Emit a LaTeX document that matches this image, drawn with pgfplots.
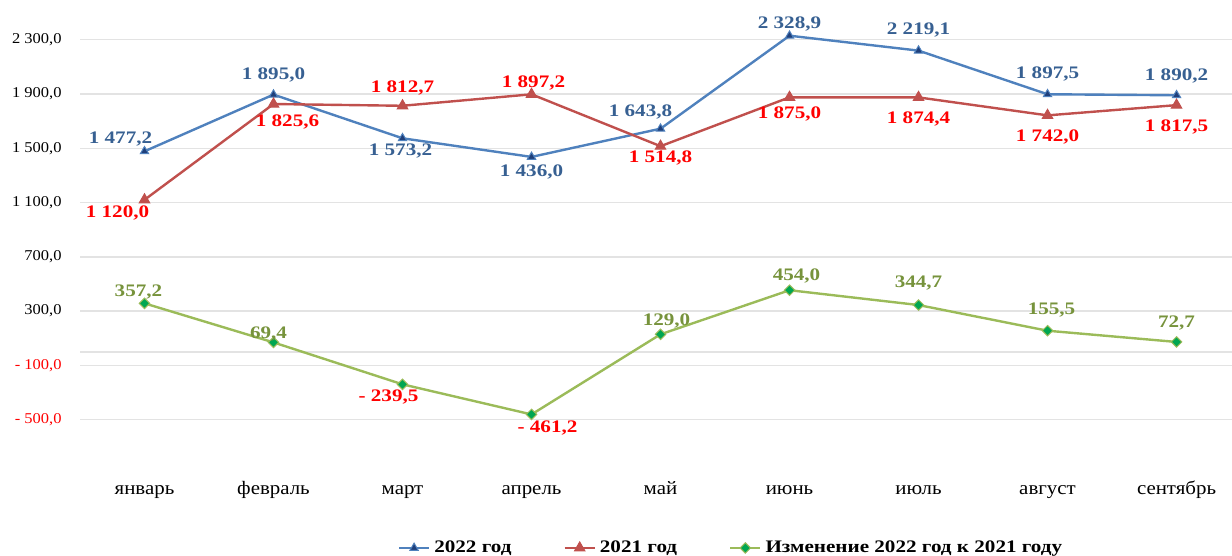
\documentclass[border=0pt]{standalone}
\usepackage{pgfplots}
\pgfplotsset{compat=1.18}
\usepackage{pgfplotstable}
\usepackage{fontspec}
\setmainfont{Liberation Serif}[FakeStretch=1.1]
\newfontfamily\lblfont{Liberation Serif}[FakeStretch=1.2]

\definecolor{blueline}{HTML}{4F81BD}
\definecolor{bluemark}{HTML}{1F3F7A}
\definecolor{bluetext}{HTML}{376092}
\definecolor{redline}{HTML}{C0504D}
\definecolor{redtext}{HTML}{FF0000}
\definecolor{greenline}{HTML}{9BBB59}
\definecolor{greenmark}{HTML}{00A651}
\definecolor{greentext}{HTML}{77933C}
\definecolor{gridgray}{HTML}{E3E3E3}

\pgfplotstableread[col sep=semicolon]{
x;y;lbl;dx;dy
0;1477.2;1 477,2;-12;6.3
1;1895.0;1 895,0;0;10
2;1573.2;1 573,2;-1;-6.5
3;1436.0;1 436,0;0;-7.5
4;1643.8;1 643,8;-10;8.3
5;2328.9;2 328,9;0;5.8
6;2219.1;2 219,1;0;10.5
7;1897.5;1 897,5;0;10
8;1890.2;1 890,2;0;9.5
}\tabA

\pgfplotstableread[col sep=semicolon]{
x;y;lbl;dx;dy
0;1120.0;1 120,0;-13.5;-6.6
1;1825.6;1 825,6;7;-9
2;1812.7;1 812,7;0;9
3;1897.2;1 897,2;1;5.5
4;1514.8;1 514,8;0;-6
5;1875.0;1 875,0;0;-8.5
6;1874.4;1 874,4;0;-11
7;1742.0;1 742,0;0;-11
8;1817.5;1 817,5;0;-11
}\tabB

\pgfplotstableread[col sep=semicolon]{
x;y;lbl;dx;dy
0;357.2;357,2;-3;5.8
1;69.4;69,4;-2.5;4.3
2;-239.5;\textcolor{redtext}{- 239,5};-7;-6.2
3;-461.2;\textcolor{redtext}{- 461,2};8;-7
4;129.0;129,0;3;6.7
5;454.0;454,0;3.5;7
6;344.7;344,7;0;10.8
7;155.5;155,5;2;10.3
8;72.7;72,7;0;9.5
}\tabC

\begin{document}
\begin{tikzpicture}
\path[use as bounding box] (-40pt,-41pt) rectangle (576pt,237pt);
\begin{axis}[
  at={(0,0)}, anchor=south west,
  scale only axis,
  width=576pt, height=237pt,
  xmin=-0.5, xmax=8.43,
  ymin=-900, ymax=2592,
  clip=false,
  axis line style={draw=none},
  major tick length=0pt,
  xtick={0,...,8},
  xticklabels={январь,февраль,март,апрель,май,июнь,июль,август,сентябрь},
  xticklabel style={font=\fontsize{9.5}{11}\selectfont, anchor=base, inner sep=0pt, yshift=-10.5pt},
  ytick={-500,-100,300,700,1100,1500,1900,2300},
  yticklabels={{\color{red}- 500,0},{\color{red}- 100,0},{300,0},{700,0},{1 100,0},{1 500,0},{1 900,0},{2 300,0}},
  yticklabel style={font=\fontsize{7.5}{9}\selectfont, anchor=east, inner sep=0pt, xshift=-9pt},
  ymajorgrids,
  major grid style={color=gridgray, line width=0.7pt},
  extra y ticks={0},
  extra y tick labels={},
  extra y tick style={ymajorgrids, major grid style={color=gridgray, line width=0.7pt}},
  point meta=explicit symbolic,
  nodes near coords,
  visualization depends on={\thisrow{dx}\as\dx},
  visualization depends on={\thisrow{dy}\as\dy},
  nodes near coords style={anchor=center, inner sep=0pt, xshift=\dx pt, yshift=\dy pt, font=\fontsize{8.8}{10}\lblfont\bfseries},
  legend columns=3,
  legend image code/.code={\draw[mark repeat=2,mark phase=2,#1] plot coordinates {(0pt,0pt) (7.5pt,0pt) (15pt,0pt)};},
  legend style={draw=none, fill=none, at={(0.566,-0.156)}, anchor=center,
    font=\fontsize{8.8}{10}\lblfont\bfseries,
    /tikz/every even column/.append style={column sep=24pt}},
]
\addplot[color=blueline, line width=1.2pt, mark=triangle*, mark size=2.4pt,
  mark options={fill=bluemark, draw=blueline, line width=0.5pt},
  nodes near coords style={text=bluetext}]
  table[x=x, y=y, meta=lbl] {\tabA};
\addlegendentry{2022 год}
\addplot[color=redline, line width=1.2pt, mark=triangle*, mark size=3pt,
  mark options={fill=redline, draw=redline, line width=0.5pt},
  nodes near coords style={text=redtext}]
  table[x=x, y=y, meta=lbl] {\tabB};
\addlegendentry{2021 год}
\addplot[color=greenline, line width=1.2pt, mark=square*, mark size=1.85pt,
  mark options={rotate=45, fill=greenmark, draw=greenline, line width=0.5pt},
  nodes near coords style={text=greentext}]
  table[x=x, y=y, meta=lbl] {\tabC};
\addlegendentry{Изменение 2022 год к 2021 году}
\end{axis}
\end{tikzpicture}
\end{document}
